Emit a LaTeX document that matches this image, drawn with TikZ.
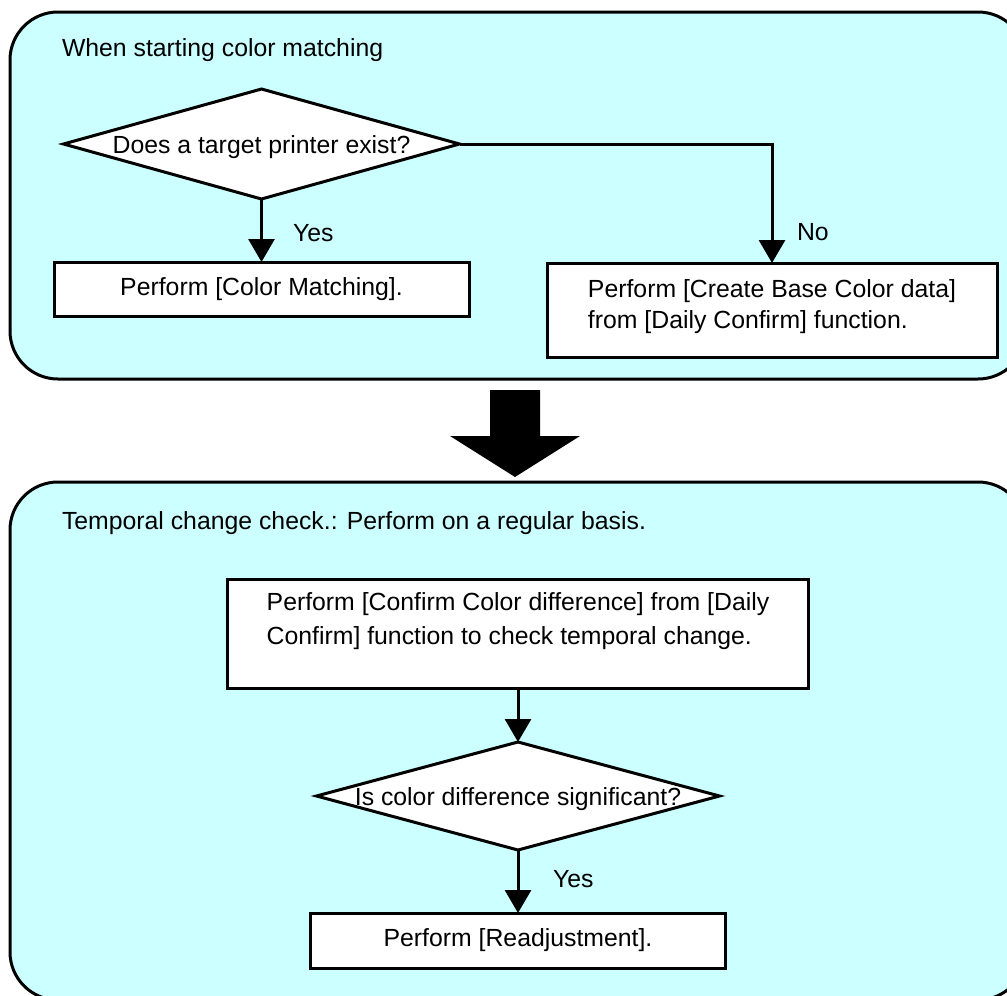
\documentclass[tikz,border=0pt]{standalone}
\usepackage{fontspec}
\setmainfont{Liberation Sans}
\usetikzlibrary{shapes.geometric,arrows.meta}
\definecolor{panelfill}{HTML}{CCFFFF}
\newcommand{\ctext}[2]{\raisebox{#1}[0pt][0pt]{\makebox[0pt]{#2}}}
\newcommand{\mtext}[3]{\raisebox{#1}[0pt][0pt]{\makebox[0pt]{\fontsize{24.8}{#2}\selectfont\begin{tabular}[t]{@{}l@{}}#3\end{tabular}}}}
\begin{document}
\begin{tikzpicture}[x=1pt,y=-1pt,
  every node/.style={font=\fontsize{24.8}{30}\selectfont},
  panel/.style={draw, line width=3pt, fill=panelfill, rounded corners=48pt},
  box/.style={draw, rectangle, line width=3pt, fill=white, inner sep=0pt, outer sep=0pt},
  dec/.style={draw, diamond, line width=3pt, fill=white, inner sep=0pt, outer sep=0pt},
  arr/.style={line width=3pt, -{Triangle[width=26pt,length=23pt]}},
  lbl/.style={inner sep=0pt, outer sep=0pt}]
\useasboundingbox (0,0) rectangle (1007,996);
\clip (0,0) rectangle (1007,996);
% panels
\draw[panel] (10,12) rectangle (1026,379);
\draw[panel] (10,482) rectangle (1026,1000);
\node[lbl, anchor=base west] (t1) at (62,56) {When starting color matching};
\node[lbl, anchor=base west] (t2) at (62,529) {Temporal change check.: Perform on a regular basis.};
% top flow
\node[dec, minimum width=396pt, minimum height=110pt] (d1) at (261.5,144) {\ctext{-9pt}{Does a target printer exist?}};
\node[box, minimum width=415pt, minimum height=54pt] (b1) at (261.5,289) {\ctext{-6pt}{Perform [Color Matching].}};
\node[box, minimum width=450pt, minimum height=94pt] (b2) at (772,310) {\mtext{13pt}{31}{Perform [Create Base Color data]\\from [Daily Confirm] function.}};
\draw[arr] (d1.south) -- (b1.north);
\draw[arr] (d1.east) -| (b2.north);
\node[lbl, anchor=base west] (yes1) at (293,241) {Yes};
\node[lbl, anchor=base west] (no1) at (797,240) {No};
% big arrow
\fill (490,390) -- (540,390) -- (540,436) -- (580,436) -- (515,477) -- (450,436) -- (490,436) -- cycle;
% bottom flow
\node[box, minimum width=581pt, minimum height=109pt] (b3) at (518,633.5) {\mtext{23.5pt}{34}{Perform [Confirm Color difference] from [Daily\\Confirm] function to check temporal change.}};
\node[dec, minimum width=403pt, minimum height=108pt] (d2) at (518,796) {\ctext{-9pt}{Is color difference significant?}};
\node[box, minimum width=415pt, minimum height=55pt] (b4) at (518,940.5) {\ctext{-5.5pt}{Perform [Readjustment].}};
\draw[arr] (b3.south) -- (d2.north);
\draw[arr] (d2.south) -- (b4.north);
\node[lbl, anchor=base west] (yes2) at (553,887) {Yes};
\end{tikzpicture}
\end{document}
